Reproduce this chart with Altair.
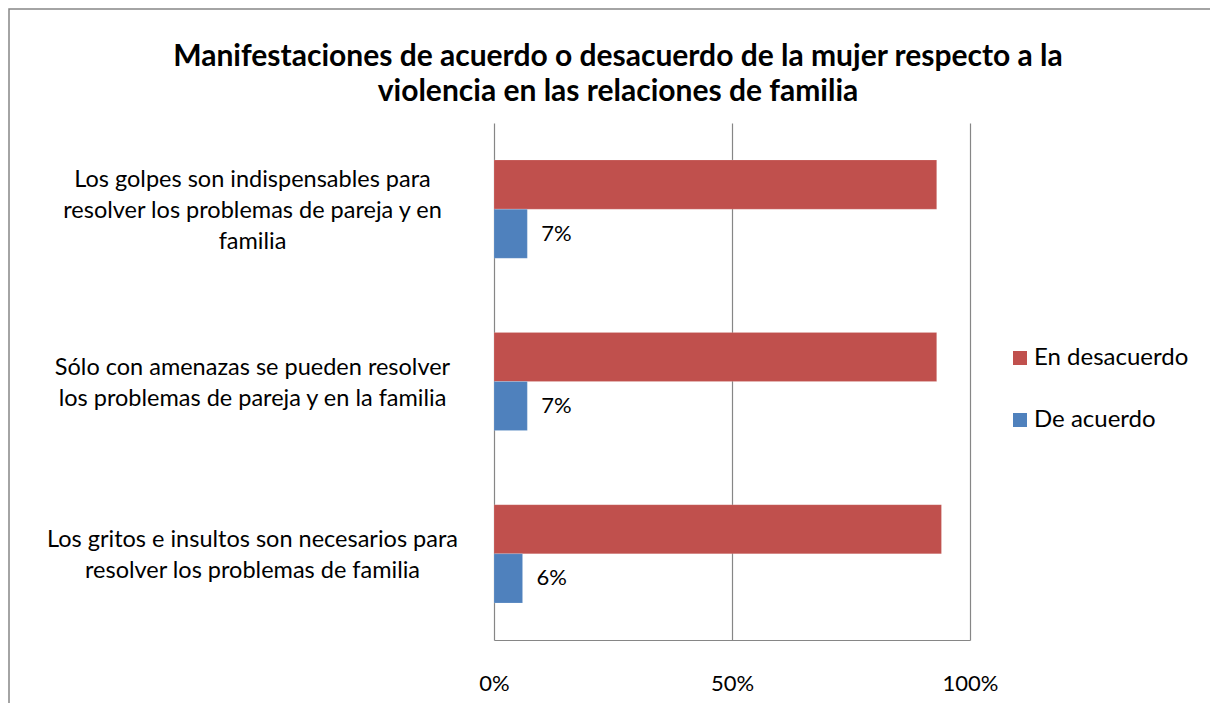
import altair as alt
import pandas as pd

title_lines = ["Manifestaciones de acuerdo o desacuerdo de la mujer respecto a la",
               "violencia en las relaciones de familia"]
categories = [
    "Los golpes son indispensables para|resolver los problemas de pareja y en|familia",
    "Sólo con amenazas se pueden resolver|los problemas de pareja y en la familia",
    "Los gritos e insultos son necesarios para|resolver los problemas de familia",
]
series = ["En desacuerdo", "De acuerdo"]
en_desacuerdo = [0.93, 0.93, 0.94]
de_acuerdo = [0.07, 0.07, 0.06]
colors = ["#C0504D", "#4F81BD"]
x_ticks = [0, 0.5, 1]

rows = []
for c, v in zip(categories, en_desacuerdo):
    rows.append({"cat": c, "serie": series[0], "value": v})
for c, v in zip(categories, de_acuerdo):
    rows.append({"cat": c, "serie": series[1], "value": v})
df = pd.DataFrame(rows)

FONT = "Lato"
LH = 31

y_enc = alt.Y(
    "cat:N",
    sort=categories,
    scale=alt.Scale(paddingInner=0.43, paddingOuter=0.215),
    axis=alt.Axis(
        title=None, ticks=False, domain=False, grid=False,
        labelAlign="center", labelBaseline="middle", labelPadding=242,
        labelExpr="split(datum.label, '|')", labelLineHeight=LH,
        labelOffset={
            "condition": {"test": "length(split(datum.label, '|')) >= 3", "value": -29},
            "value": -14,
        },
        labelFontSize=23.5, labelFont=FONT, labelColor="#000000", labelLimit=0,
    ),
)
x_enc = alt.X(
    "value:Q",
    scale=alt.Scale(domain=[0, 1]),
    axis=alt.Axis(
        title=None, values=x_ticks, format=".0%", grid=True, labelFlush=False,
        gridColor="#868686", gridWidth=1.2, domainColor="#868686", domainWidth=1.2,
        ticks=False, labelPadding=33, labelFontSize=22, labelFont=FONT,
        labelColor="#000000",
    ),
)
yoff = alt.YOffset("serie:N", sort=series, scale=alt.Scale(paddingInner=0, paddingOuter=0))

bars = alt.Chart(df).mark_bar(stroke="#ffffff", strokeOpacity=0.3, strokeWidth=0.5).encode(
    x=x_enc,
    y=y_enc,
    yOffset=yoff,
    color=alt.Color(
        "serie:N",
        scale=alt.Scale(domain=series, range=colors),
        legend=alt.Legend(
            title=None, orient="none", legendX=514, legendY=223,
            symbolType="square", symbolSize=196, symbolStrokeWidth=0,
            labelFontSize=24, labelFont=FONT, labelColor="#000000",
            rowPadding=38, labelOffset=2,
        ),
    ),
)

labels = alt.Chart(df).transform_filter(
    alt.datum.serie == "De acuerdo"
).mark_text(align="left", baseline="middle", dx=14, fontSize=22, font=FONT, color="#000000").encode(
    x="value:Q",
    y=alt.Y("cat:N", sort=categories),
    yOffset=alt.YOffset("serie:N", sort=series),
    text=alt.Text("value:Q", format=".0%"),
)

frame = alt.Chart(pd.DataFrame({"a": [0]})).mark_rect(
    fill=None, stroke="#868686", strokeWidth=1.5
).encode(
    x=alt.value(-485), x2=alt.value(760), y=alt.value(-114), y2=alt.value(700)
)

title = alt.Chart(pd.DataFrame({"t": [title_lines]})).mark_text(
    align="center", baseline="middle", fontSize=30, font=FONT, fontWeight="bold",
    color="#000000", lineHeight=35,
).encode(
    text="t", x=alt.value(124), y=alt.value(-66)
)

chart = alt.layer(frame, bars, labels, title).properties(
    width=476,
    height=517,
    autosize=alt.AutoSizeParams(type="none"),
    padding={"left": 486, "top": 115, "right": 240, "bottom": 63},
).configure_view(stroke=None)

chart.save("out.html", embed_options={"renderer": "svg", "actions": False})
